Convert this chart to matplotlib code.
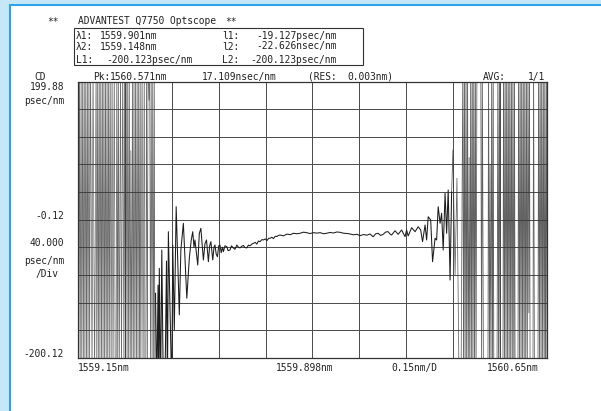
import matplotlib
matplotlib.use("Agg")
import matplotlib.pyplot as plt
from matplotlib.patches import Rectangle

W, H = 601, 411

# left edge of the scan: trace swings across the whole screen
wl_left = [1559.150, 1559.152, 1559.155, 1559.157, 1559.160, 1559.162, 1559.165,
           1559.167, 1559.170, 1559.172, 1559.175, 1559.177, 1559.180, 1559.182,
           1559.185, 1559.187, 1559.190, 1559.195, 1559.198, 1559.203,
           1559.208, 1559.210, 1559.213, 1559.215, 1559.218, 1559.220, 1559.223,
           1559.225, 1559.228, 1559.230, 1559.233, 1559.235, 1559.238, 1559.240,
           1559.243, 1559.245, 1559.248, 1559.250, 1559.253, 1559.256,
           1559.259, 1559.262, 1559.266, 1559.269,
           1559.272, 1559.274, 1559.277, 1559.279, 1559.282,
           1559.286, 1559.289, 1559.293,
           1559.297, 1559.299, 1559.302, 1559.304, 1559.307, 1559.309, 1559.312,
           1559.314, 1559.317, 1559.319, 1559.322, 1559.324, 1559.327, 1559.329,
           1559.332, 1559.334, 1559.337, 1559.339, 1559.342, 1559.344, 1559.347,
           1559.349, 1559.351, 1559.355, 1559.358, 1559.362, 1559.364,
           1559.367, 1559.369, 1559.372, 1559.374, 1559.377, 1559.379, 1559.382,
           1559.384, 1559.387, 1559.389, 1559.392, 1559.394, 1559.396]
cd_left = [250, -250, 250, -250, 250, -250, 250,
           -250, 250, -250, 250, -250, 250, -250,
           250, -250, 250, -250, 250, -250,
           250, -250, 250, -250, 250, -250, 250,
           -250, 250, -250, 250, -250, 250, -250,
           250, -250, 250, -250, 250, -250,
           250, -250, 250, -250,
           -250, 250, -250, 250, -250,
           250, -250, 250,
           -250, 250, -250, 250, -250, 250, -250,
           250, -250, 100, -250, 250, -250, 250,
           -250, 250, -250, 250, -250, 250, -250,
           250, -250, 250, -250, 250, -250,
           -250, 250, -250, 250, 173, 250, -250,
           250, -250, 250, -250, 250, -250]

# measured region
wl_mid = [1559.398, 1559.402, 1559.406, 1559.408, 1559.410, 1559.414, 1559.418,
          1559.423, 1559.428, 1559.433, 1559.436, 1559.439, 1559.450, 1559.453,
          1559.458, 1559.464, 1559.474, 1559.479, 1559.487, 1559.498, 1559.506,
          1559.512, 1559.517, 1559.521, 1559.524, 1559.533, 1559.538, 1559.543,
          1559.551, 1559.556, 1559.561, 1559.567, 1559.571, 1559.575, 1559.581,
          1559.585, 1559.588, 1559.592, 1559.596, 1559.600, 1559.604, 1559.608,
          1559.612, 1559.615, 1559.620, 1559.626, 1559.630, 1559.636, 1559.641,
          1559.647, 1559.652, 1559.658, 1559.663, 1559.668, 1559.674, 1559.679,
          1559.684, 1559.690, 1559.695, 1559.700, 1559.706, 1559.711, 1559.717,
          1559.722, 1559.727, 1559.732, 1559.738, 1559.743, 1559.749, 1559.754,
          1559.760, 1559.765, 1559.770, 1559.775, 1559.781, 1559.786, 1559.791,
          1559.796, 1559.807, 1559.818, 1559.829,
          1559.839, 1559.850, 1559.860, 1559.871, 1559.881, 1559.892, 1559.903,
          1559.914, 1559.924, 1559.935, 1559.945, 1559.956, 1559.967, 1559.978,
          1559.988, 1559.999, 1560.010, 1560.020, 1560.031, 1560.042, 1560.052,
          1560.063, 1560.074, 1560.084, 1560.094, 1560.102, 1560.110, 1560.118,
          1560.126, 1560.134, 1560.142, 1560.148,
          1560.153, 1560.164, 1560.174, 1560.185, 1560.196, 1560.201, 1560.206,
          1560.217, 1560.228, 1560.238, 1560.246, 1560.252, 1560.260, 1560.265,
          1560.270, 1560.278, 1560.284, 1560.292, 1560.297, 1560.302, 1560.308,
          1560.313, 1560.318, 1560.324, 1560.329, 1560.334, 1560.340]
cd_mid = [-106.8, -250, -95.0, -250, -70.5, -250, -44.0,
          -250, -250, -60.0, -250, -17.5, -250, -36.8,
          -160, 18.7, -138, -44.0, -5.3, -114, -56.0,
          -30.0, -17.5, -40.0, -29.5, -65.8, -20.0, -12.6,
          -58.5, -35.0, -29.5, -61.0, -38.0, -32.0, -58.5,
          -40.0, -36.8, -50.0, -53.8, -38.0, -36.8, -48.0,
          -40.0, -46.5, -38.0, -39.2, -45.0, -44.0, -38.0,
          -41.1, -43.0, -36.8, -40.0, -41.0, -38.5, -37.5,
          -40.5, -41.0, -37.0, -38.0, -35.5, -34.3, -33.0,
          -35.5, -31.0, -32.0, -29.0, -29.5, -28.0, -30.5,
          -27.0, -27.0, -25.5, -27.5, -24.0, -24.5, -23.0,
          -22.3, -23.5, -21.0, -21.8,
          -19.8, -20.5, -19.8, -18.2, -18.9, -20.2, -18.9,
          -19.6, -18.9, -20.4, -19.8, -18.6, -19.4, -17.9,
          -18.4, -19.7, -20.1, -20.8, -22.0, -21.2, -23.3,
          -21.6, -22.6, -20.8, -24.8, -20.6, -19.8, -23.0,
          -21.3, -18.0, -17.5, -21.0,
          -22.3, -16.1, -21.3, -15.0, -24.8, -15.0, -23.7,
          -11.7, -17.5, -10.3, -15.0, -32.0, -7.8, -29.5,
          4.2, -0.5, -61.0, -27.0, -29.5, 18.7, -5.3,
          9.2, -44.0, 38.2, -19.8, 42.9, -87.5]

# right edge of the scan
wl_right = [1560.345, 1560.349, 1560.356, 1560.362, 1560.369, 1560.375,
            1560.381, 1560.383, 1560.386, 1560.388, 1560.391, 1560.393, 1560.396,
            1560.398, 1560.401, 1560.403, 1560.406, 1560.408, 1560.411, 1560.413,
            1560.416, 1560.418, 1560.421, 1560.423, 1560.426,
            1560.438, 1560.441, 1560.443, 1560.447,
            1560.461, 1560.463, 1560.466, 1560.468, 1560.471, 1560.473, 1560.476,
            1560.478, 1560.480,
            1560.490, 1560.493, 1560.495, 1560.498, 1560.500,
            1560.509, 1560.511, 1560.514, 1560.516, 1560.519, 1560.521, 1560.524,
            1560.526, 1560.529, 1560.531, 1560.534, 1560.536, 1560.539, 1560.541,
            1560.544, 1560.546, 1560.548,
            1560.557, 1560.559, 1560.562, 1560.564, 1560.567, 1560.569, 1560.572,
            1560.574, 1560.577, 1560.579, 1560.582, 1560.584, 1560.587, 1560.589,
            1560.592, 1560.594, 1560.596,
            1560.605, 1560.607, 1560.610,
            1560.621, 1560.623, 1560.626, 1560.628, 1560.631, 1560.633, 1560.636,
            1560.638, 1560.641, 1560.643, 1560.645, 1560.648, 1560.650]
cd_right = [40, 101, -80, 60, -250, -250,
            250, -250, 250, -250, 250, -250, 250,
            -250, 90, -250, 250, -250, 250, -250,
            250, -250, 250, -250, 250,
            250, -250, 250, -250,
            -250, 250, -250, 80, -250, 250, -250,
            250, -250,
            -250, 250, -250, 250, -250,
            -250, 250, -250, 250, -250, 250, -250,
            250, -250, 250, -250, 250, -250, 250,
            -250, 250, -250,
            -250, 250, -250, 250, -250, 250, -250,
            250, -250, 250, -250, 250, -250, 250,
            -135, 250, -250,
            -250, 250, -250,
            -250, 250, -250, 250, -250, 250, -250,
            250, -250, 250, -250, 250, -250]

x_start, x_step = 1559.15, 0.15
y_bottom, y_step = -200.12, 40.0

fig = plt.figure(figsize=(W / 100, H / 100), dpi=100)
fig.patch.set_facecolor("#c6e7f8")
fig.patches.append(Rectangle((9.5 / W, -0.1), 1.2, 1.1 - 5.5 / H, transform=fig.transFigure,
                             facecolor="white", edgecolor="#2fa3e6", lw=1.5, zorder=-5))

ax = fig.add_axes([78 / W, 1 - 357.7 / H, (547 - 78) / W, (357.7 - 81.7) / H])
ax.set_zorder(2)
ax.set_xlim(x_start, x_start + 10 * x_step)
ax.set_ylim(y_bottom, y_bottom + 10 * y_step)
ax.set_xticks([x_start + k * x_step for k in range(11)])
ax.set_yticks([y_bottom + k * y_step for k in range(11)])
ax.tick_params(length=0, labelbottom=False, labelleft=False)
ax.grid(True, color="#4a4a4a", lw=0.7)
for s in ax.spines.values():
    s.set_color("#333333")
    s.set_linewidth(0.9)

# the out-of-range parts print as a grey mesh, the measured part as a dark line
ax.plot(wl_left + wl_mid[:1], cd_left + cd_mid[:1], color="#3a3a3a", lw=0.5, alpha=0.75)
ax.plot(wl_right, cd_right, color="#3a3a3a", lw=0.55, alpha=0.8)
ax.plot(wl_mid + wl_right[:1], cd_mid + cd_right[:1], color="#1c1c1c", lw=0.75)

FONT = dict(family="DejaVu Sans Mono", size=6.9, color="#222222")


def put(s, x, y, ha="left"):
    fig.text(x / W, 1 - y / H, s, ha=ha, va="center", **FONT)


put("**", 53, 21.5, "center")
put("ADVANTEST Q7750 Optscope", 78, 21.5)
put("**", 231, 21.5, "center")
box = Rectangle((74 / W, 1 - 65 / H), (363 - 74) / W, (65 - 28) / H,
                transform=fig.transFigure, fill=False, edgecolor="#333333", lw=0.8)
fig.patches.append(box)
put("λ1:", 76, 35.5)
put("1559.901nm", 100, 35.5)
put("λ2:", 76, 46.5)
put("1559.148nm", 100, 46.5)
put("L1:", 76, 60)
put("-200.123psec/nm", 106, 60)
put("l1:", 222, 35.5)
put("-19.127psec/nm", 337, 35.5, "right")
put("l2:", 222, 46.5)
put("-22.626nsec/nm", 337, 46.5, "right")
put("L2:", 222, 60)
put("-200.123psec/nm", 337, 60, "right")

put("CD", 40, 76.5, "center")
put("Pk:", 93, 76.5)
put("1560.571nm", 110, 76.5)
put("17.109nsec/nm", 202, 76.5)
put("(RES:", 308, 76.5)
put("0.003nm)", 347, 76.5)
put("AVG:", 483, 76.5)
put("1/1", 545, 76.5, "right")

put("199.88", 64, 87, "right")
put("psec/nm", 64, 101, "right")
put("-0.12", 64, 216, "right")
put("40.000", 64, 243, "right")
put("psec/nm", 64, 261, "right")
put("/Div", 59, 274, "right")
put("-200.12", 64, 354, "right")

put("1559.15nm", 78, 367.5)
put("1559.898nm", 276, 367.5)
put("0.15nm/D", 391, 367.5)
put("1560.65nm", 487, 367.5)

fig.savefig("out.png", dpi=100, facecolor=fig.get_facecolor())
